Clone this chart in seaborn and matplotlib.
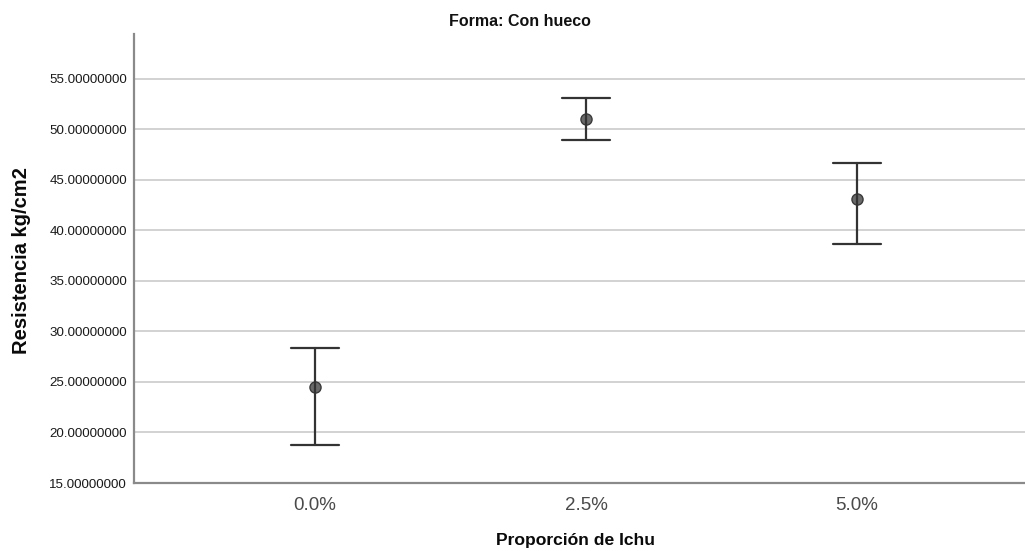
import numpy as np
import pandas as pd
import seaborn as sns
import matplotlib
matplotlib.use("Agg")
import matplotlib.pyplot as plt

# Proporción de Ichu groups and 95% CI summary of the strength
categories = ["0.0%", "2.5%", "5.0%"]
means = [24.55, 51.0, 43.1]
ci_low = [18.78, 49.0, 38.65]
ci_high = [28.32, 53.1, 46.7]
y_ticks = [15, 20, 25, 30, 35, 40, 45, 50, 55]

# long table: each group carries its lower bound, mean and upper bound
rows = []
for cat, lo, m, hi in zip(categories, ci_low, means, ci_high):
    for v in (lo, m, hi):
        rows.append({"Proporción de Ichu": cat, "Resistencia": v})
df = pd.DataFrame(rows)

sns.set_theme(style="white")
plt.rcParams["font.family"] = ["Liberation Sans", "DejaVu Sans"]

W, H = 1025, 551
fig = plt.figure(figsize=(W / 100, H / 100), dpi=100)
ax_l, ax_r, ax_t, ax_b = 134, 1025, 34, 483
ax = fig.add_axes([ax_l / W, 1 - ax_b / H, (ax_r - ax_l) / W, (ax_b - ax_t) / H])

for t in y_ticks[1:]:
    ax.axhline(t, color="#d2d2d2", linewidth=1.4, zorder=0)

sns.pointplot(
    data=df, x="Proporción de Ichu", y="Resistencia", order=categories,
    estimator=np.median, errorbar=lambda v: (v.min(), v.max()),
    color="#333333", linestyle="none", marker="o", markersize=8,
    markerfacecolor="#6a6a6a", markeredgecolor="#3a3a3a", markeredgewidth=1.0,
    capsize=0.175, err_kws={"linewidth": 1.6}, ax=ax,
)

ax.set_xlim(-0.668, 2.62)
ax.set_ylim(15, 59.45)
ax.set_yticks(y_ticks)
ax.set_yticklabels([f"{t:.8f}" for t in y_ticks], fontsize=9.6, color="#1a1a1a")
ax.tick_params(axis="x", labelsize=13.5, labelcolor="#4a4a4a", length=0, pad=10)
ax.tick_params(axis="y", length=0, pad=5)

for side in ("top", "right"):
    ax.spines[side].set_visible(False)
for side in ("left", "bottom"):
    ax.spines[side].set_color("#8a8a8a")
    ax.spines[side].set_linewidth(1.6)

ax.set_xlabel("Proporción de Ichu", fontsize=12.6, fontweight="bold", va="center",
              color="#0a0a0a")
ax.set_ylabel("Resistencia kg/cm2", fontsize=14.5, fontweight="bold", va="center",
              color="#0a0a0a")
ax.xaxis.set_label_coords(0.496, (ax_b - 541) / (ax_b - ax_t))
ax.yaxis.set_label_coords((22 - ax_l) / (ax_r - ax_l), (ax_b - 261) / (ax_b - ax_t))

fig.text(520 / W, 1 - 22 / H, "Forma: Con hueco", ha="center", va="center",
         fontsize=11.5, fontweight="bold", color="#111111")

fig.savefig("out.png", dpi=100)
